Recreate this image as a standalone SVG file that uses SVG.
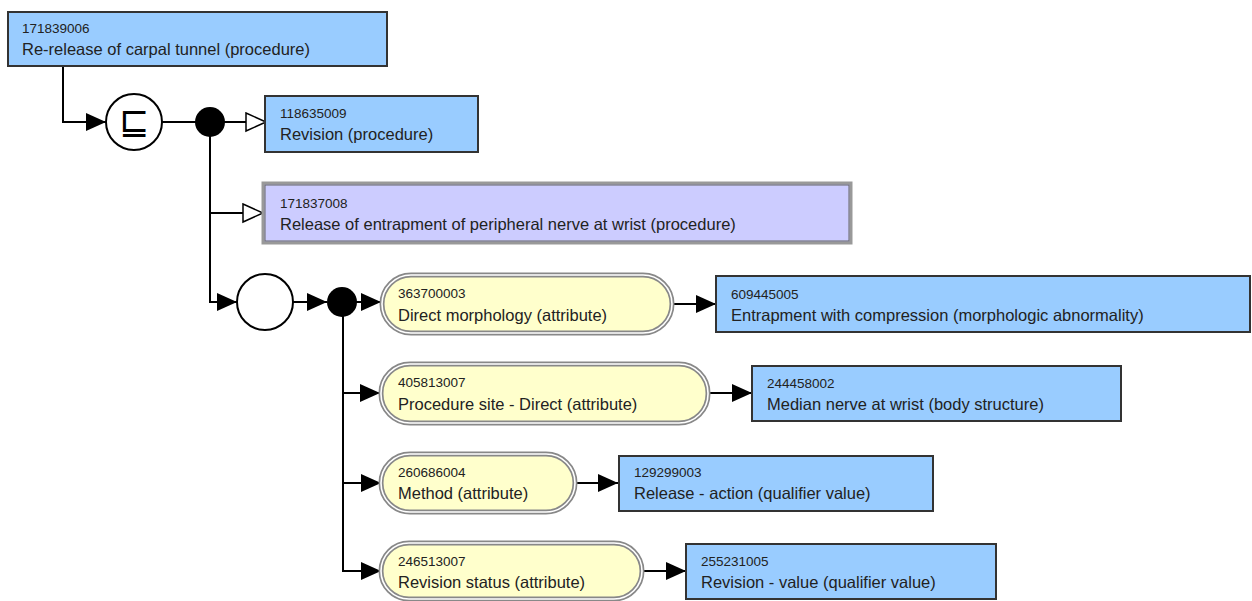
<svg xmlns="http://www.w3.org/2000/svg" width="1252" height="601" viewBox="0 0 1252 601">
  <style>
    .concept { fill: #99ccff; stroke: #333; stroke-width: 2; }
    .defined { fill: #ccccff; stroke: #999; stroke-width: 3; }
    .defined-in { fill: none; stroke: #666; stroke-width: 1; }
    .attr-out { fill: #ffffcc; stroke: #888; stroke-width: 5; }
    .attr-in { fill: none; stroke: #fff; stroke-width: 1.6; }
    .code { font-family: "Liberation Sans", Arial, sans-serif; font-size: 13.5px; fill: #222; }
    .term { font-family: "Liberation Sans", Arial, sans-serif; font-size: 16.5px; fill: #222; }
    .conn { fill: none; stroke: #000; stroke-width: 2; }
    .hub { fill: #fff; stroke: #000; stroke-width: 2; }
    .dot { fill: #000; }
  </style>
  <defs>
    <marker id="arrow" markerUnits="userSpaceOnUse" markerWidth="22" markerHeight="20" refX="20" refY="9" orient="auto">
      <path d="M0,0 L20,9 L0,18 z" fill="#000"/>
    </marker>
    <marker id="isa" markerUnits="userSpaceOnUse" markerWidth="24" markerHeight="22" refX="21" refY="10" orient="auto">
      <path d="M1,1 L21,10 L1,19 z" fill="#fff" stroke="#000" stroke-width="1.5"/>
    </marker>
  </defs>

  <!-- connectors -->
  <g id="connectors">
    <path class="conn" d="M63,66 V122 H106" marker-end="url(#arrow)"/>
    <line class="conn" x1="162" y1="122" x2="196" y2="122"/>
    <line class="conn" x1="224" y1="122" x2="266" y2="122" marker-end="url(#isa)"/>
    <path class="conn" d="M210,136 V302 H237" marker-end="url(#arrow)"/>
    <line class="conn" x1="210" y1="213" x2="263" y2="213" marker-end="url(#isa)"/>
    <line class="conn" x1="293" y1="302" x2="327" y2="302" marker-end="url(#arrow)"/>
    <line class="conn" x1="356" y1="302" x2="381" y2="302" marker-end="url(#arrow)"/>
    <path class="conn" d="M343,316 V572"/>
    <line class="conn" x1="343" y1="393" x2="380" y2="393" marker-end="url(#arrow)"/>
    <line class="conn" x1="343" y1="483" x2="381" y2="483" marker-end="url(#arrow)"/>
    <line class="conn" x1="342" y1="571" x2="381" y2="571" marker-end="url(#arrow)"/>
    <line class="conn" x1="672" y1="304" x2="716" y2="304" marker-end="url(#arrow)"/>
    <line class="conn" x1="708" y1="393" x2="752" y2="393" marker-end="url(#arrow)"/>
    <line class="conn" x1="575" y1="483" x2="618" y2="483" marker-end="url(#arrow)"/>
    <line class="conn" x1="642" y1="571" x2="686" y2="571" marker-end="url(#arrow)"/>
  </g>

  <!-- focus concept -->
  <g id="n171839006">
    <rect class="concept" x="8" y="12" width="379" height="54"/>
    <text class="code" x="22" y="33">171839006</text>
    <text class="term" x="22" y="55">Re-release of carpal tunnel (procedure)</text>
  </g>

  <!-- subsumption operator -->
  <g id="sub-op">
    <circle class="hub" cx="134" cy="122" r="28"/>
    <text x="134" y="134" text-anchor="middle" font-family="DejaVu Sans, sans-serif" font-size="36" fill="#000">⊑</text>
  </g>
  <g id="conj1"><circle class="dot" cx="210" cy="122" r="15"/></g>

  <g id="n118635009">
    <rect class="concept" x="265" y="96" width="213" height="56"/>
    <text class="code" x="280" y="118">118635009</text>
    <text class="term" x="280" y="140">Revision (procedure)</text>
  </g>

  <g id="n171837008">
    <rect class="defined" x="263" y="183" width="588" height="60"/>
    <rect class="defined-in" x="265" y="185" width="584" height="56"/>
    <text class="code" x="280" y="208">171837008</text>
    <text class="term" x="280" y="230">Release of entrapment of peripheral nerve at wrist (procedure)</text>
  </g>

  <!-- role group -->
  <g id="group1"><circle class="hub" cx="265" cy="302" r="28"/></g>
  <g id="conj2"><circle class="dot" cx="342" cy="302" r="15"/></g>

  <g id="a363700003">
    <rect class="attr-out" x="382" y="275" width="290" height="58" rx="29"/>
    <rect class="attr-in" x="382" y="275" width="290" height="58" rx="29"/>
    <text class="code" x="398" y="298">363700003</text>
    <text class="term" x="398" y="321">Direct morphology (attribute)</text>
  </g>
  <g id="n609445005">
    <rect class="concept" x="716" y="276" width="534" height="56"/>
    <text class="code" x="731" y="299">609445005</text>
    <text class="term" x="731" y="321">Entrapment with compression (morphologic abnormality)</text>
  </g>

  <g id="a405813007">
    <rect class="attr-out" x="381" y="364" width="327" height="59" rx="29"/>
    <rect class="attr-in" x="381" y="364" width="327" height="59" rx="29"/>
    <text class="code" x="398" y="387">405813007</text>
    <text class="term" x="398" y="410">Procedure site - Direct (attribute)</text>
  </g>
  <g id="n244458002">
    <rect class="concept" x="752" y="366" width="369" height="55"/>
    <text class="code" x="767" y="388">244458002</text>
    <text class="term" x="767" y="410">Median nerve at wrist (body structure)</text>
  </g>

  <g id="a260686004">
    <rect class="attr-out" x="381" y="454" width="194" height="58" rx="29"/>
    <rect class="attr-in" x="381" y="454" width="194" height="58" rx="29"/>
    <text class="code" x="398" y="477">260686004</text>
    <text class="term" x="398" y="499">Method (attribute)</text>
  </g>
  <g id="n129299003">
    <rect class="concept" x="619" y="456" width="314" height="55"/>
    <text class="code" x="634" y="477">129299003</text>
    <text class="term" x="634" y="499">Release - action (qualifier value)</text>
  </g>

  <g id="a246513007">
    <rect class="attr-out" x="381" y="543" width="261" height="56" rx="28"/>
    <rect class="attr-in" x="381" y="543" width="261" height="56" rx="28"/>
    <text class="code" x="398" y="566">246513007</text>
    <text class="term" x="398" y="588">Revision status (attribute)</text>
  </g>
  <g id="n255231005">
    <rect class="concept" x="686" y="544" width="310" height="55"/>
    <text class="code" x="701" y="566">255231005</text>
    <text class="term" x="701" y="588">Revision - value (qualifier value)</text>
  </g>
</svg>
